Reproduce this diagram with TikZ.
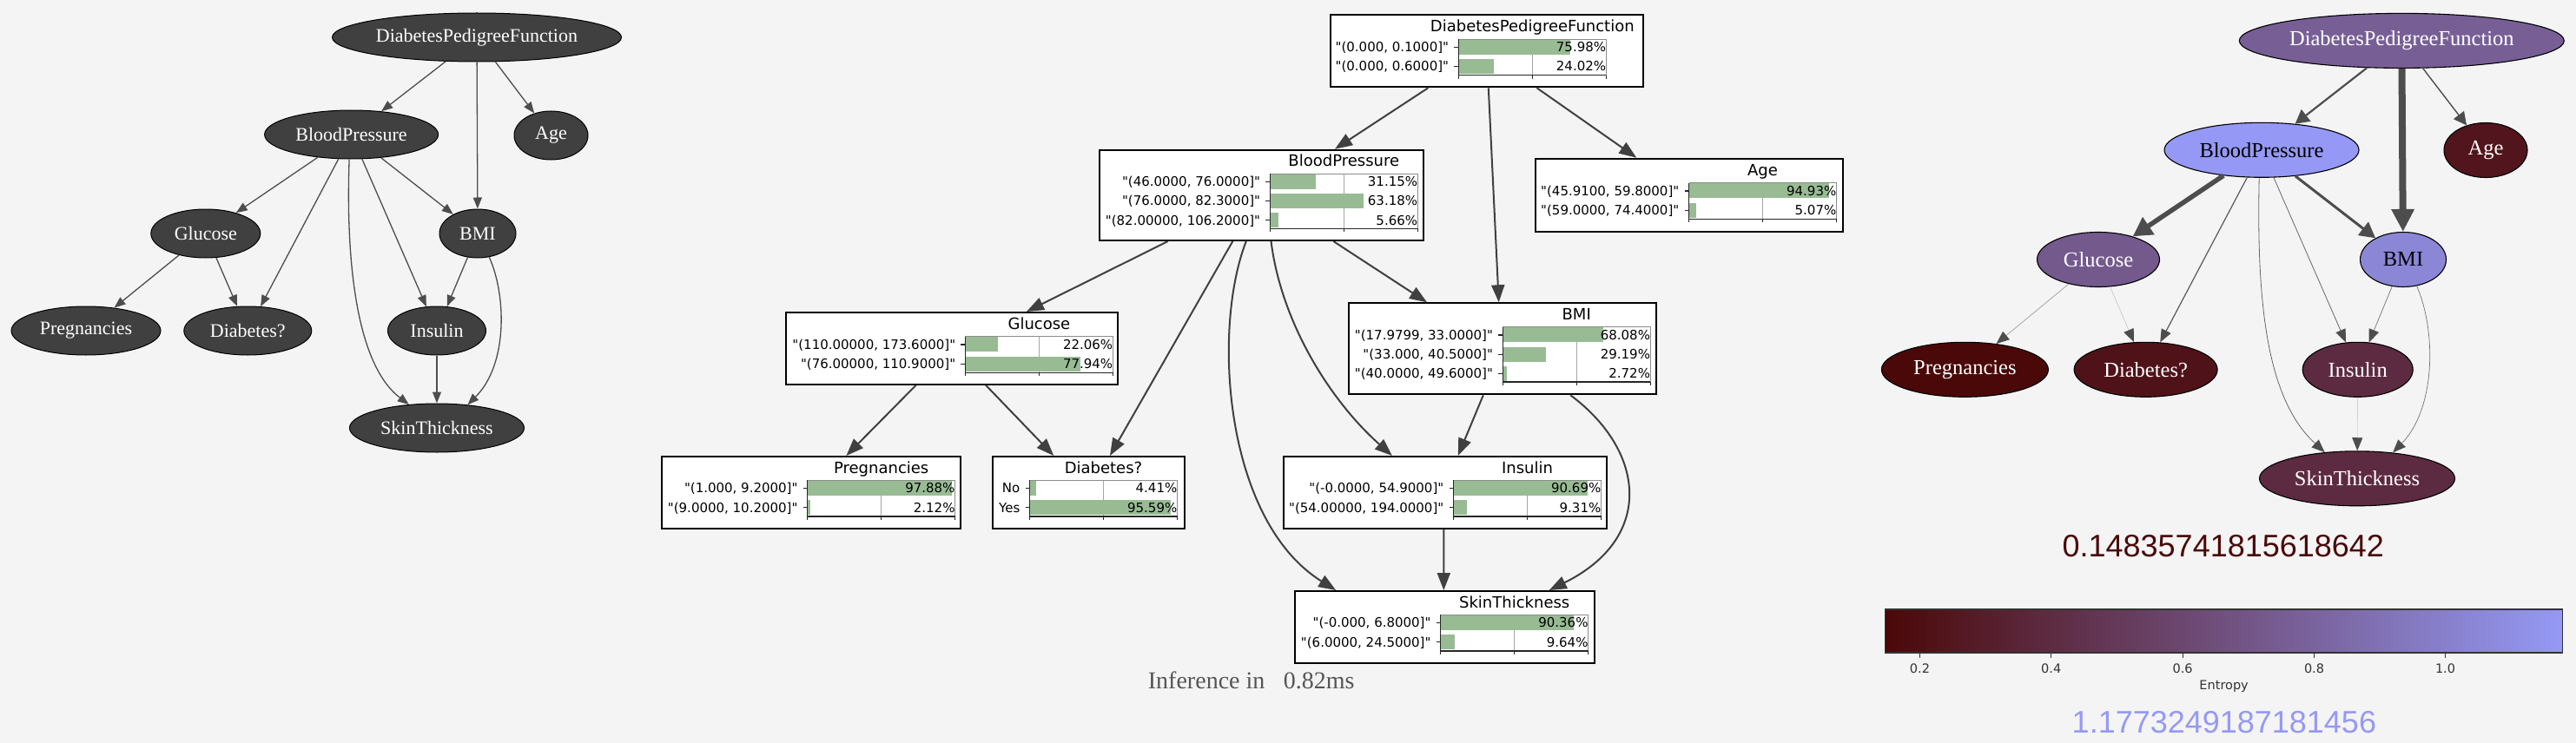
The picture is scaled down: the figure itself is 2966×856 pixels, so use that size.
\documentclass[tikz,border=0pt]{standalone}
\usepackage{fontspec}
\setmainfont{Liberation Serif}
\newfontfamily\djv{DejaVu Sans}
\newfontfamily\lsans{Liberation Sans}
\usetikzlibrary{arrows.meta,shapes.geometric}
\definecolor{bg}{RGB}{244,244,244}
\definecolor{cmin}{RGB}{75,8,8}
\definecolor{cmax}{RGB}{149,153,245}
\definecolor{gvfill}{RGB}{64,64,64}
\definecolor{edgec}{RGB}{77,77,77}
\definecolor{medgec}{RGB}{64,64,64}
\definecolor{barc}{RGB}{152,187,148}
\definecolor{infc}{RGB}{85,85,85}
\colorlet{nDPF}{cmax!60!cmin}
\colorlet{nBP}{cmax}
\colorlet{nAge}{cmax!9!cmin}
\colorlet{nGlu}{cmax!56!cmin}
\colorlet{nBMI}{cmax!87!cmin}
\colorlet{nPreg}{cmin}
\colorlet{nDiab}{cmax!7!cmin}
\colorlet{nIns}{cmax!24!cmin}
\colorlet{nSkin}{cmax!24!cmin}
\tikzset{
  lnode/.style={ellipse, draw=black, line width=1pt, fill=gvfill, text=white, inner sep=0pt,
    minimum height=56pt, font=\fontsize{22}{24}\selectfont},
  rnode/.style={ellipse, draw=black, line width=1.1pt, inner sep=0pt, text=white,
    minimum height=63pt, font=\fontsize{24.5}{27}\selectfont},
  ledge/.style={draw=edgec, line width=1.3pt, -{Triangle[length=13pt,width=10pt]}},
  medge/.style={draw=medgec, line width=2pt, -{Triangle[length=20pt,width=15pt]}},
  redge/.style={draw=edgec, -{Triangle[length=15pt,width=12pt,color=edgec]}},
  bnbox/.style={draw=black, fill=white, line width=2pt, inner sep=0pt, anchor=north west},
  lab/.style={inner sep=0pt, font=\djv\fontsize{15}{17}\selectfont, text=black},
  ttl/.style={inner sep=0pt, font=\djv\fontsize{18}{20}\selectfont, text=black},
  spine/.style={draw=black!85, line width=1.2pt},
  framec/.style={draw=black!45, line width=0.8pt},
  gridc/.style={draw=black!35, line width=0.8pt},
  cbtick/.style={inner sep=0pt, font=\djv\fontsize{14.5}{16}\selectfont, text=black!80},
  bignum/.style={inner sep=0pt, font=\lsans\fontsize{36}{40}\selectfont},
}
% #1 name, #2 axes left, #3 axes top, #4 number of bars, #5 title, #6 label/value list
\newcommand{\bnchart}[6]{%
  \pgfmathsetmacro{\axh}{21.6*#4-1.5}
  \draw[gridc] (#2+85,#3) -- (#2+85,#3+\axh);
  \foreach \lab/\val [count=\i from 0] in {#6} {
    \fill[barc] (#2,#3+0.7+22.3*\i) rectangle (#2+1.7*\val,#3+17.7+22.3*\i);
    \draw[spine] (#2-5,#3+9.2+22.3*\i) -- (#2,#3+9.2+22.3*\i);
    \node[lab, anchor=base east] (#1-l\i) at (#2-11,#3+14.6+22.3*\i) {\lab};
    \node[lab, anchor=base east] (#1-p\i) at (#2+170,#3+14.6+22.3*\i) {\val\%};
  }
  \draw[framec] (#2,#3) -- (#2+170,#3) -- (#2+170,#3+\axh);
  \draw[spine] (#2,#3) -- (#2,#3+\axh) -- (#2+170,#3+\axh);
  \foreach \k in {0,85,170} \draw[spine] (#2+\k,#3+\axh) -- ++(0,4);
  \node[ttl, anchor=base] (#1-t) at (#2+85,#3-8.3) {#5};
}
\begin{document}
\begin{tikzpicture}[x=1pt,y=-1pt]
\useasboundingbox (0,0) rectangle (2966,856);
\fill[bg] (0,0) rectangle (2966,856);

% ---------------- left graph ----------------
\node[lnode, minimum width=333pt] (ldpf) at (549,43) {DiabetesPedigreeFunction};
\node[lnode, minimum width=200pt] (lbp) at (404.6,155) {BloodPressure};
\node[lnode, minimum width=85pt] (lage) at (634.5,156) {Age};
\node[lnode, minimum width=126pt] (lglu) at (236.8,269) {Glucose};
\node[lnode, minimum width=88pt] (lbmi) at (550,269) {BMI};
\node[lnode, minimum width=172pt] (lpreg) at (99,381) {Pregnancies};
\node[lnode, minimum width=147pt] (ldiab) at (285.3,381) {Diabetes?};
\node[lnode, minimum width=113pt] (lins) at (503,381) {Insulin};
\node[lnode, minimum width=201pt] (lskin) at (503,493) {SkinThickness};

\draw[ledge] (ldpf) -- (lbp);
\draw[ledge] (ldpf) -- (lbmi);
\draw[ledge] (ldpf) -- (lage);
\draw[ledge] (lbp) -- (lglu);
\draw[ledge] (lbp) -- (ldiab);
\draw[ledge] (lbp) -- (lins);
\draw[ledge] (lbp) -- (lbmi);
\draw[ledge] (lbp.265) .. controls (398,300) and (410,420) .. (lskin.140);
\draw[ledge] (lglu) -- (lpreg);
\draw[ledge] (lglu) -- (ldiab);
\draw[ledge] (lbmi) -- (lins);
\draw[ledge] (lbmi.-64) .. controls (583,340) and (585,420) .. (lskin.37);
\draw[ledge] (lins) -- (lskin);

% ---------------- middle graph ----------------
\node[bnbox, minimum width=360.5pt, minimum height=83.3pt] (mdpf) at (1530.7,16) {};
\node[bnbox, minimum width=372.7pt, minimum height=104.3pt] (mbp) at (1265,171.7) {};
\node[bnbox, minimum width=354.2pt, minimum height=84pt] (mage) at (1766.6,181.7) {};
\node[bnbox, minimum width=382.1pt, minimum height=82.7pt] (mglu) at (904.3,359) {};
\node[bnbox, minimum width=354pt, minimum height=105pt] (mbmi) at (1551.6,348.3) {};
\node[bnbox, minimum width=343.7pt, minimum height=82.7pt] (mpreg) at (761,525) {};
\node[bnbox, minimum width=221.4pt, minimum height=82.7pt] (mdiab) at (1141.8,525) {};
\node[bnbox, minimum width=371.9pt, minimum height=82.7pt] (mins) at (1476.6,525) {};
\node[bnbox, minimum width=344.7pt, minimum height=82.7pt] (mskin) at (1490.4,680) {};

\bnchart{cdpf}{1679.3}{45}{2}{DiabetesPedigreeFunction}{{"(0.000, 0.1000]"}/75.98, {"(0.000, 0.6000]"}/24.02}
\bnchart{cbp}{1462.3}{200}{3}{BloodPressure}{{"(46.0000, 76.0000]"}/31.15, {"(76.0000, 82.3000]"}/63.18, {"(82.00000, 106.2000]"}/5.66}
\bnchart{cage}{1944.5}{210.7}{2}{Age}{{"(45.9100, 59.8000]"}/94.93, {"(59.0000, 74.4000]"}/5.07}
\bnchart{cglu}{1111.4}{387.7}{2}{Glucose}{{"(110.00000, 173.6000]"}/22.06, {"(76.00000, 110.9000]"}/77.94}
\bnchart{cbmi}{1730.2}{376.7}{3}{BMI}{{"(17.9799, 33.0000]"}/68.08, {"(33.000, 40.5000]"}/29.19, {"(40.0000, 49.6000]"}/2.72}
\bnchart{cpreg}{929.7}{553.3}{2}{Pregnancies}{{"(1.000, 9.2000]"}/97.88, {"(9.0000, 10.2000]"}/2.12}
\bnchart{cdiab}{1185.5}{553.3}{2}{Diabetes?}{No/4.41, Yes/95.59}
\bnchart{cins}{1673.5}{553.3}{2}{Insulin}{{"(-0.0000, 54.9000]"}/90.69, {"(54.00000, 194.0000]"}/9.31}
\bnchart{cskin}{1658.7}{708.3}{2}{SkinThickness}{{"(-0.000, 6.8000]"}/90.36, {"(6.0000, 24.5000]"}/9.64}

\draw[medge] ([xshift=113.6pt]mdpf.south west) -- ([xshift=272pt]mbp.north west);
\draw[medge] ([xshift=183.1pt]mdpf.south west) -- ([xshift=174.1pt]mbmi.north west);
\draw[medge] ([xshift=238.8pt]mdpf.south west) -- ([xshift=117.7pt]mage.north west);
\draw[medge] ([xshift=79.7pt]mbp.south west) -- ([xshift=277.7pt]mglu.north west);
\draw[medge] ([xshift=154.3pt]mbp.south west) -- ([xshift=136.2pt]mdiab.north west);
\draw[medge] ([xshift=169.8pt]mbp.south west) .. controls (1395,380) and (1410,600) .. ([xshift=47.8pt]mskin.north west);
\draw[medge] ([xshift=198.5pt]mbp.south west) .. controls (1475,370) and (1530,460) .. ([xshift=126.3pt]mins.north west);
\draw[medge] ([xshift=270.3pt]mbp.south west) -- ([xshift=91.4pt]mbmi.north west);
\draw[medge] ([xshift=150.4pt]mglu.south west) -- ([xshift=213.4pt]mpreg.north west);
\draw[medge] ([xshift=230.7pt]mglu.south west) -- ([xshift=71.4pt]mdiab.north west);
\draw[medge] ([xshift=156.2pt]mbmi.south west) -- ([xshift=202.2pt]mins.north west);
\draw[medge] ([xshift=256.7pt]mbmi.south west) .. controls (1895,520) and (1905,620) .. ([xshift=293.3pt]mskin.north west);
\draw[medge] ([xshift=185.7pt]mins.south west) -- ([xshift=171.9pt]mskin.north west);

\node[inner sep=0pt, anchor=base west, text=infc, font=\fontsize{28}{30}\selectfont] (inf) at (1321.7,793.3) {Inference in\hspace{21.5pt}0.82ms};

% ---------------- right graph ----------------
\node[rnode, fill=nDPF, minimum width=374pt] (rdpf) at (2765.3,46.9) {DiabetesPedigreeFunction};
\node[rnode, fill=nBP, text=black, minimum width=224pt] (rbp) at (2604,172.8) {BloodPressure};
\node[rnode, fill=nAge, minimum width=96pt] (rage) at (2862,173) {Age};
\node[rnode, fill=nGlu, minimum width=141pt] (rglu) at (2416,299) {Glucose};
\node[rnode, fill=nBMI, text=black, minimum width=99pt] (rbmi) at (2767,299) {BMI};
\node[rnode, fill=nPreg, minimum width=192pt] (rpreg) at (2262.4,425.8) {Pregnancies};
\node[rnode, fill=nDiab, minimum width=165pt] (rdiab) at (2470.6,425.8) {Diabetes?};
\node[rnode, fill=nIns, minimum width=127pt] (rins) at (2714.7,425.8) {Insulin};
\node[rnode, fill=nSkin, minimum width=225pt] (rskin) at (2714,551.3) {SkinThickness};

\draw[redge, line width=2.2pt, -{Triangle[length=16pt,width=17pt]}] (rdpf) -- (rbp);
\draw[redge, line width=8pt, -{Triangle[length=26pt,width=25pt]}] (rdpf) -- (rbmi);
\draw[redge, line width=1.4pt, -{Triangle[length=15pt,width=15pt]}] (rdpf) -- (rage);
\draw[redge, line width=5.5pt, -{Triangle[length=22pt,width=23pt]}] (rbp) -- (rglu);
\draw[redge, line width=3pt, -{Triangle[length=18pt,width=19pt]}] (rbp) -- (rbmi);
\draw[redge, draw=black!65, line width=1.2pt] (rbp) -- (rdiab);
\draw[redge, draw=black!60, line width=0.8pt] (rbp) -- (rins);
\draw[redge, draw=black!60, line width=0.8pt] (rbp.265) .. controls (2598,350) and (2610,460) .. (rskin.141);
\draw[redge, draw=black!35, line width=0.8pt] (rglu) -- (rpreg);
\draw[redge, draw=black!22, line width=0.7pt] (rglu) -- (rdiab);
\draw[redge, draw=black!50, line width=0.8pt] (rbmi) -- (rins);
\draw[redge, draw=black!55, line width=0.7pt] (rbmi.-63) .. controls (2805,380) and (2805,470) .. (rskin.36);
\draw[redge, draw=black!18, line width=0.7pt] (rins) -- (rskin);

% numbers and colour bar
\node[bignum, anchor=base, text=cmin] (vmin) at (2559.8,641.7) {0.14835741815618642};
\shade[left color=cmin, right color=cmax] (2170.7,702) rectangle (2950.5,752);
\draw[black!80, line width=1.3pt] (2170.7,702) rectangle (2950.5,752);
\foreach \tx/\tl [count=\j] in {2210.5/0.2, 2361.7/0.4, 2513.1/0.6, 2664.5/0.8, 2815.5/1.0} {
  \draw[black!80, line width=1pt] (\tx,752) -- (\tx,757.5);
  \node[cbtick, anchor=base] (cbt\j) at (\tx,775) {\tl};
}
\node[cbtick, anchor=base] (cblab) at (2560.6,794.5) {Entropy};
\node[bignum, anchor=base, text=cmax] (vmax) at (2560.9,844.3) {1.1773249187181456};
\end{tikzpicture}
\end{document}
